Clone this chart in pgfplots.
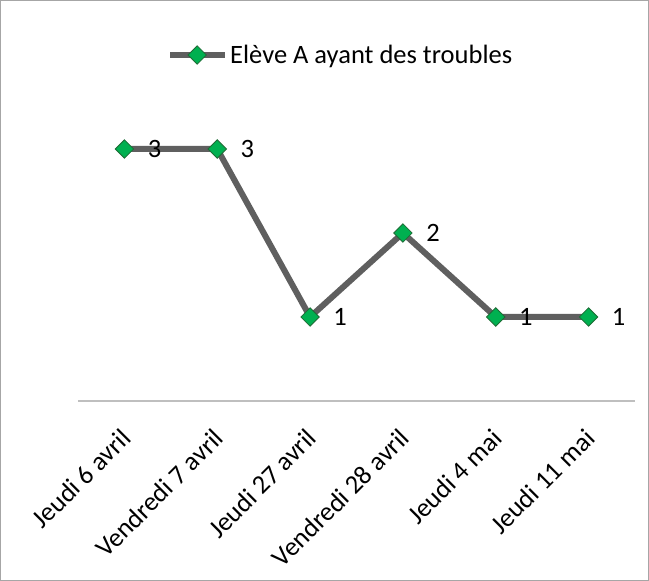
\documentclass[border=0pt]{standalone}
\usepackage{fontspec}
\setmainfont{Carlito}
\usepackage{pgfplots}
\pgfplotsset{compat=1.18}
\definecolor{ligne}{HTML}{5F5F5F}
\definecolor{vert}{HTML}{00B050}
\definecolor{vertfonce}{HTML}{1E6B35}
\definecolor{axe}{HTML}{BFBFBF}
\definecolor{cadre}{HTML}{A6A6A6}

\begin{document}
\begin{tikzpicture}[font=\fontsize{26.5}{32}\selectfont]
\draw[cadre,line width=1.2pt] (0.6pt,0.6pt) rectangle (648.4pt,580.4pt);
\begin{axis}[at={(78pt,180pt)},anchor=south west,scale only axis,width=557pt,height=294pt,
  xmin=-0.5,xmax=5.5,ymin=0,ymax=3.5,
  axis x line=bottom,axis y line=none,x axis line style={axe,line width=1.5pt,-},
  xtick={0,...,5},xticklabels={Jeudi 6 avril,Vendredi 7 avril,Jeudi 27 avril,Vendredi 28 avril,Jeudi 4 mai,Jeudi 11 mai},
  major tick length=0pt,
  xticklabel style={anchor=north east,inner sep=0pt,xshift=-5pt,yshift=-26pt,rotate=45},
  ytick=\empty,clip=false,
  /pgf/number format/assume math mode=true,
  nodes near coords,nodes near coords style={anchor=west,inner sep=0pt,xshift=23pt,black},
  legend style={at={(axis description cs:0,1)},anchor=west,xshift=89pt,yshift=52pt,draw=none,fill=none,inner sep=0pt,
    nodes={inner sep=2pt}},
  legend image code/.code={\draw[mark repeat=2,mark phase=2,#1] plot coordinates {(0pt,0pt)(27pt,0pt)(55pt,0pt)};}]
\addplot[ligne,line width=6pt,mark=square*,mark options={rotate=45,fill=vert,draw=vertfonce,line width=0.8pt,solid},mark size=6.5pt]
  coordinates {(0,3)(1,3)(2,1)(3,2)(4,1)(5,1)};
\addlegendentry{Elève A ayant des troubles}
\end{axis}
\end{tikzpicture}
\end{document}
